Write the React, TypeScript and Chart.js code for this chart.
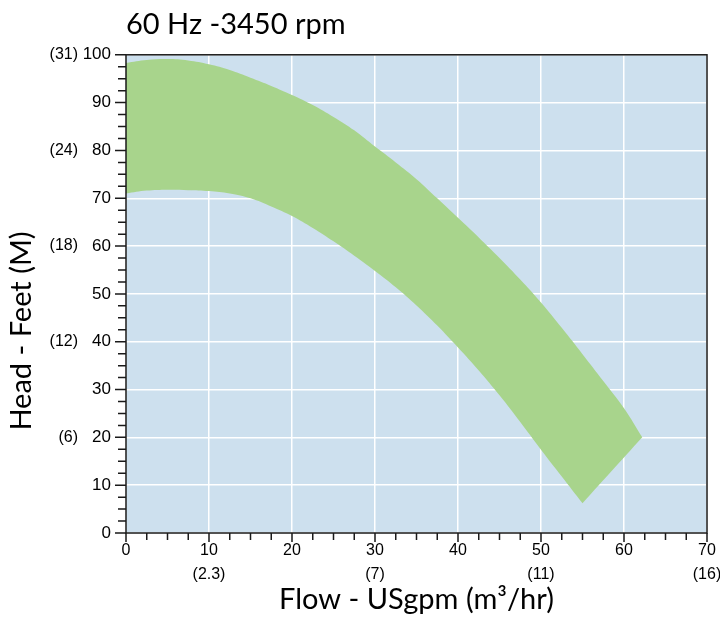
import React, { useEffect, useRef } from 'react';
import { Chart, registerables } from 'chart.js';

Chart.register(...registerables);

// ---- text ----
const CHART_TITLE = '60 Hz -3450 rpm';
const X_TITLE = 'Flow - USgpm (m³/hr)';
const Y_TITLE = 'Head - Feet (M)';

// ---- performance band (flow in USgpm, head in feet) ----
const upperFlow = [0, 2.5, 5, 7.5, 10, 12.5, 15, 17.5, 20, 22.5, 25, 27.5, 30, 32.5, 35, 37.5, 40, 42.5, 45, 47.5, 50, 52.5, 55, 57.5, 60, 62.2];
const upperHead = [98.3, 98.9, 99.1, 98.8, 98.0, 96.8, 95.2, 93.5, 91.6, 89.5, 87.0, 84.2, 80.8, 77.5, 74.0, 70.0, 65.9, 61.8, 57.5, 53.0, 48.2, 42.9, 37.4, 31.8, 26.1, 20.0];
const lowerFlow = [0, 2.5, 5, 7.5, 10, 12.5, 15, 17.5, 20, 22.5, 25, 27.5, 30, 32.5, 35, 37.5, 40, 42.5, 45, 47.5, 50, 52.5, 55];
const lowerHead = [71.0, 71.6, 71.8, 71.7, 71.5, 71.0, 70.0, 68.3, 66.3, 63.8, 61.0, 58.0, 54.8, 51.4, 47.6, 43.4, 38.8, 34.0, 28.8, 23.2, 17.4, 11.8, 6.2];

// ---- axes ----
const X_MIN = 0;
const X_MAX = 70;
const X_STEP = 10;
const Y_MIN = 0;
const Y_MAX = 100;
const Y_STEP = 10;
const MINOR_STEP = 2.5;
const xSecondaryValues = [10, 30, 50, 70];
const xSecondaryLabels = ['(2.3)', '(7)', '(11)', '(16)'];
const ySecondaryValues = [20, 40, 60, 80, 100];
const ySecondaryLabels = ['(6)', '(12)', '(18)', '(24)', '(31)'];

const COLORS = {
  plotBg: '#cde0ee',
  band: '#a8d48c',
  grid: '#ffffff',
  axis: '#1a1a1a',
  text: '#000000',
};
const TICK_FONT = '"Liberation Sans Narrow", "Arial Narrow", "Liberation Sans", Arial, sans-serif';
const TITLE_FONT = 'Lato, "Open Sans", sans-serif';

const framePlugin = {
  id: 'frame',
  beforeDraw(chart: any) {
    const { ctx, chartArea: a } = chart;
    ctx.save();
    ctx.fillStyle = COLORS.plotBg;
    ctx.fillRect(a.left, a.top, a.right - a.left, a.bottom - a.top);
    ctx.restore();
  },
  afterDraw(chart: any) {
    const { ctx, chartArea: a } = chart;
    const xs = chart.scales.x;
    const ys = chart.scales.y;
    ctx.save();
    ctx.strokeStyle = COLORS.axis;
    ctx.lineWidth = 1.5;
    ctx.strokeRect(a.left, a.top, a.right - a.left, a.bottom - a.top);
    ctx.beginPath();
    for (let v = X_MIN; v <= X_MAX + 1e-6; v += MINOR_STEP) {
      const px = xs.getPixelForValue(v);
      const major = Math.abs(v / X_STEP - Math.round(v / X_STEP)) < 1e-6;
      ctx.moveTo(px, a.bottom);
      ctx.lineTo(px, a.bottom + (major ? 9 : 7));
    }
    for (let v = Y_MIN; v <= Y_MAX + 1e-6; v += MINOR_STEP) {
      const py = ys.getPixelForValue(v);
      const major = Math.abs(v / Y_STEP - Math.round(v / Y_STEP)) < 1e-6;
      ctx.moveTo(a.left, py);
      ctx.lineTo(a.left - (major ? 11 : 8), py);
    }
    ctx.stroke();
    // y-axis title
    ctx.fillStyle = COLORS.text;
    ctx.font = `29px ${TITLE_FONT}`;
    ctx.textAlign = 'center';
    ctx.textBaseline = 'middle';
    ctx.translate(22, 331);
    ctx.rotate(-Math.PI / 2);
    ctx.fillText(Y_TITLE, 0, 0);
    ctx.restore();
  },
};

export default function App() {
  const ref = useRef<HTMLCanvasElement | null>(null);

  useEffect(() => {
    document.body.style.margin = '0';
    const canvas = ref.current;
    if (!canvas) return;

    const upper = upperFlow.map((x, i) => ({ x, y: upperHead[i] }));
    const lower = lowerFlow.map((x, i) => ({ x, y: lowerHead[i] })).reverse();
    // corners are repeated so the smoothed outline keeps them sharp
    const polygon = [...upper, upper[upper.length - 1], lower[0], ...lower];

    const chart = new Chart(canvas, {
      type: 'line',
      data: {
        datasets: [
          {
            label: 'Performance range',
            data: polygon,
            fill: 'shape',
            backgroundColor: COLORS.band,
            borderColor: COLORS.band,
            borderWidth: 0,
            pointRadius: 0,
            tension: 0.4,
          },
        ],
      },
      options: {
        animation: false,
        responsive: true,
        maintainAspectRatio: false,
        layout: { padding: { left: 44, right: 13, top: 0, bottom: 0 } },
        plugins: {
          legend: { display: false },
          tooltip: { enabled: false },
          title: {
            display: true,
            text: CHART_TITLE,
            align: 'start',
            fullSize: false,
            color: COLORS.text,
            font: { family: TITLE_FONT, size: 29, weight: 'normal', lineHeight: 1.2 },
            padding: { top: 7, bottom: 13 },
          },
        },
        scales: {
          x: {
            type: 'linear',
            min: X_MIN,
            max: X_MAX,
            afterFit(scale: any) {
              scale.height = 90;
              scale.paddingLeft = 0;
              scale.paddingRight = 0;
            },
            border: { display: false },
            grid: { color: COLORS.grid, lineWidth: 1.5, drawTicks: false },
            ticks: {
              stepSize: X_STEP,
              autoSkip: false,
              maxRotation: 0,
              padding: 6,
              color: COLORS.text,
              font: { family: TICK_FONT, size: 16, lineHeight: 1.5 },
              callback(value: any) {
                const i = xSecondaryValues.indexOf(Number(value));
                return i >= 0 ? [String(value), xSecondaryLabels[i]] : String(value);
              },
            },
            title: {
              display: true,
              text: X_TITLE,
              color: COLORS.text,
              font: { family: TITLE_FONT, size: 29, lineHeight: 1.2 },
              padding: { top: 0, bottom: 6 },
            },
          },
          y: {
            type: 'linear',
            position: 'left',
            min: Y_MIN,
            max: Y_MAX,
            weight: 0,
            afterFit(scale: any) {
              scale.width = 44;
            },
            border: { display: false },
            grid: { color: COLORS.grid, lineWidth: 1.5, drawTicks: false },
            ticks: {
              stepSize: Y_STEP,
              padding: 15,
              color: COLORS.text,
              font: { family: TICK_FONT, size: 17 },
            },
          },
          y2: {
            type: 'linear',
            position: 'left',
            min: Y_MIN,
            max: Y_MAX,
            weight: 1,
            afterFit(scale: any) {
              scale.width = 38;
            },
            border: { display: false },
            grid: { display: false, drawTicks: false },
            afterBuildTicks(scale: any) {
              scale.ticks = ySecondaryValues.map((v) => ({ value: v }));
            },
            ticks: {
              padding: 4,
              color: COLORS.text,
              font: { family: TICK_FONT, size: 16 },
              callback(value: any) {
                const i = ySecondaryValues.indexOf(Number(value));
                return i >= 0 ? ySecondaryLabels[i] : '';
              },
            },
          },
        },
      },
      plugins: [framePlugin],
    } as any);

    return () => chart.destroy();
  }, []);

  return (
    <div style={{ width: 720, height: 623, position: 'relative' }}>
      <canvas ref={ref} />
    </div>
  );
}
